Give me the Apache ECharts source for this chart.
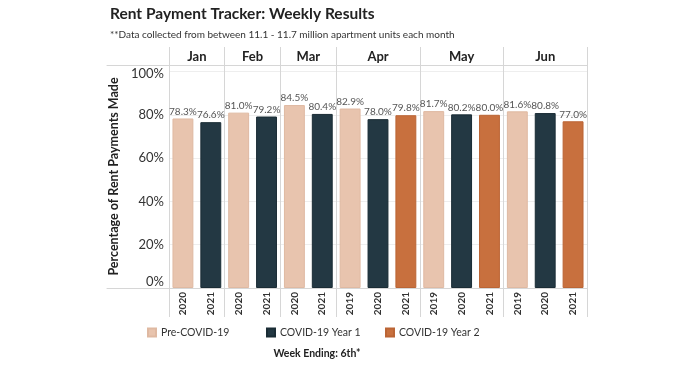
<!DOCTYPE html>
<html>
<head>
<meta charset="utf-8">
<script src="https://cdn.jsdelivr.net/npm/echarts@6/dist/echarts.min.js"></script>
<style>
html,body{margin:0;padding:0;background:#fff;}
#main{width:696px;height:365px;}
</style>
</head>
<body>
<div id="main"></div>
<script>
// ---- data ----
var months = ['Jan', 'Feb', 'Mar', 'Apr', 'May', 'Jun'];
var monthSizes = [2, 2, 2, 3, 3, 3];
var years = ['2020','2021','2020','2021','2020','2021','2019','2020','2021','2019','2020','2021','2019','2020','2021'];
var preCovid = [78.3, null, 81.0, null, 84.5, null, 82.9, null, null, 81.7, null, null, 81.6, null, null];
var covidYear1 = [null, 76.6, null, 79.2, null, 80.4, null, 78.0, null, null, 80.2, null, null, 80.8, null];
var covidYear2 = [null, null, null, null, null, null, null, null, 79.8, null, null, 80.0, null, null, 77.0];
var yTicks = [0, 20, 40, 60, 80, 100];

// ---- derived ----
var categories = years.map(function (y, i) { return i + '|' + y; });
var boundaries = [];
var monthCenters = [];
var acc = 0;
monthSizes.forEach(function (s) { boundaries.push(acc); monthCenters.push(acc + s / 2); acc += s; });
var total = acc;

var FONT = 'Lato';
var lineColor = '#d6d6d6';

function barSeries(name, data, color, border) {
  return {
    name: name, type: 'bar', stack: 'all', data: data,
    xAxisIndex: 0, yAxisIndex: 0,
    barCategoryGap: '25%',
    itemStyle: { color: color, borderColor: border, borderWidth: 1 },
    label: {
      show: true, position: 'top', distance: 2,
      fontFamily: FONT, fontSize: 10, color: '#555',
      formatter: function (p) { return p.value == null ? '' : p.value.toFixed(1) + '%'; }
    }
  };
}

var chart = echarts.init(document.getElementById('main'), null, { renderer: 'canvas' });
chart.setOption({
  animation: false,
  textStyle: { fontFamily: FONT },
  title: [
    { text: 'Rent Payment Tracker: Weekly Results', left: 110, top: 6, padding: 0,
      textStyle: { fontFamily: FONT, fontSize: 15.5, fontWeight: 'bold', color: '#222' } },
    { text: '**Data collected from between 11.1 - 11.7 million apartment units each month', left: 110, top: 30, padding: 0,
      textStyle: { fontFamily: FONT, fontSize: 10, fontWeight: 'normal', color: '#333' } },
    { text: 'Week Ending: 6th*', left: 317, top: 348, padding: 0, textAlign: 'center',
      textStyle: { fontFamily: FONT, fontSize: 10.5, fontWeight: 'bold', color: '#222' } }
  ],
  legend: [
    { data: ['Pre-COVID-19'], left: 147, top: 327 },
    { data: ['COVID-19 Year 1'], left: 266, top: 327 },
    { data: ['COVID-19 Year 2'], left: 385, top: 327 }
  ].map(function (l) {
    l.icon = 'rect'; l.itemWidth = 8; l.itemHeight = 8; l.itemGap = 4; l.padding = 0;
    l.textStyle = { fontFamily: FONT, fontSize: 10.5, color: '#333' };
    return l;
  }),
  grid: [
    { left: 169, right: 109, top: 65, bottom: 77 },
    { left: 107, right: 109, top: 65, bottom: 77 }
  ],
  xAxis: [
    {
      type: 'category', gridIndex: 0, data: categories, position: 'bottom',
      axisLine: { show: false },
      axisTick: { show: true, length: 29, lineStyle: { color: lineColor },
        interval: function (i) { return boundaries.indexOf(i) >= 0; } },
      splitLine: { show: true, lineStyle: { color: lineColor },
        interval: function (i) { return boundaries.indexOf(i) >= 0; } },
      axisLabel: { interval: 0, rotate: 90, margin: 4, fontFamily: FONT, fontSize: 10, fontWeight: 'bold', color: '#333',
        formatter: function (v) { return v.split('|')[1]; } }
    },
    {
      type: 'value', gridIndex: 0, position: 'top', min: 0, max: total,
      axisLine: { show: false, onZero: false },
      splitLine: { show: false },
      axisTick: { show: true, length: 18, lineStyle: { color: lineColor },
        customValues: boundaries.concat([total]) },
      axisLabel: { show: true, margin: 2, fontFamily: FONT, fontSize: 13, fontWeight: 'bold', color: '#222',
        customValues: monthCenters,
        formatter: function (v) { var k = monthCenters.indexOf(v); return k >= 0 ? months[k] : ''; } }
    },
    {
      type: 'value', gridIndex: 1, position: 'bottom', min: 0, max: 1,
      axisLine: { show: true, onZero: false, lineStyle: { color: lineColor } },
      axisTick: { show: false }, axisLabel: { show: false }, splitLine: { show: false }
    },
    {
      type: 'value', gridIndex: 1, position: 'top', min: 0, max: 1,
      axisLine: { show: true, onZero: false, lineStyle: { color: lineColor } },
      axisTick: { show: false }, axisLabel: { show: false }, splitLine: { show: false }
    }
  ],
  yAxis: [
    {
      type: 'value', gridIndex: 0, min: 0, max: 103, interval: 20,
      name: 'Percentage of Rent Payments Made', nameLocation: 'middle', nameGap: 41,
      nameTextStyle: { fontFamily: FONT, fontSize: 12.5, fontWeight: 'bold', color: '#222' },
      axisLine: { show: false }, axisTick: { show: false },
      splitLine: { show: true, lineStyle: { color: '#eeeeee' } },
      axisLabel: {
        margin: 5, showMaxLabel: false, fontFamily: FONT, fontSize: 13, color: '#333',
        formatter: function (v) {
          if (yTicks.indexOf(v) < 0) return '';
          if (v === 0) return '{z|0%}';
          if (v === 100) return '{t|100%}';
          return v + '%';
        },
        rich: {
          z: { fontFamily: FONT, fontSize: 13, color: '#333', padding: [0, 0, 13, 0] },
          t: { fontFamily: FONT, fontSize: 13, color: '#333', padding: [4, 0, 0, 0] }
        }
      }
    },
    { type: 'value', gridIndex: 1, show: false }
  ],
  series: [
    barSeries('Pre-COVID-19', preCovid, '#e8c4ae', '#dfb9a2'),
    barSeries('COVID-19 Year 1', covidYear1, '#233843', '#1a2c35'),
    barSeries('COVID-19 Year 2', covidYear2, '#c8703e', '#bb6535')
  ]
});
</script>
</body>
</html>
